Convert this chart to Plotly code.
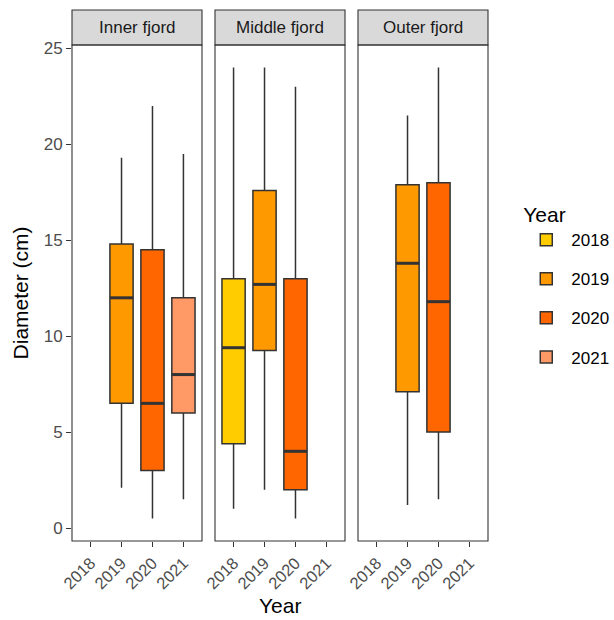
import plotly.graph_objects as go

years = ["2018", "2019", "2020", "2021"]
colors = {"2018": "#FFCC00", "2019": "#FF9900", "2020": "#FF6600", "2021": "#FF9966"}
regions = ["Inner fjord", "Middle fjord", "Outer fjord"]

# Box statistics per region
inner_years = ["2019", "2020", "2021"]
inner_lower = [2.1, 0.5, 1.5]
inner_q1 = [6.5, 3.0, 6.0]
inner_med = [12.0, 6.5, 8.0]
inner_q3 = [14.8, 14.5, 12.0]
inner_upper = [19.3, 22.0, 19.5]

middle_years = ["2018", "2019", "2020"]
middle_lower = [1.0, 2.0, 0.5]
middle_q1 = [4.4, 9.25, 2.0]
middle_med = [9.4, 12.7, 4.0]
middle_q3 = [13.0, 17.6, 13.0]
middle_upper = [24.0, 24.0, 23.0]

outer_years = ["2019", "2020"]
outer_lower = [1.2, 1.5]
outer_q1 = [7.1, 5.0]
outer_med = [13.8, 11.8]
outer_q3 = [17.9, 18.0]
outer_upper = [21.5, 24.0]

y_ticks = [0, 5, 10, 15, 20, 25]

data = {
    "Inner fjord": (inner_years, inner_lower, inner_q1, inner_med, inner_q3, inner_upper),
    "Middle fjord": (middle_years, middle_lower, middle_q1, middle_med, middle_q3, middle_upper),
    "Outer fjord": (outer_years, outer_lower, outer_q1, outer_med, outer_q3, outer_upper),
}

FONT = "Liberation Sans, Arial, Helvetica, sans-serif"
DARK = "#333333"
BOXW = 0.75

fig = go.Figure()
shown = set()
domains = [[0.0, 0.3125], [0.34375, 0.65625], [0.6875, 1.0]]

for yr in years:
    for pi, reg in enumerate(regions):
        yl, lo, q1, md, q3, up = data[reg]
        if yr not in yl:
            continue
        k = yl.index(yr)
        xi = years.index(yr)
        xa = "x" if pi == 0 else f"x{pi+1}"
        ya = "y" if pi == 0 else f"y{pi+1}"
        fig.add_trace(go.Box(
            x=[xi], q1=[q1[k]], median=[md[k]], q3=[q3[k]],
            lowerfence=[lo[k]], upperfence=[up[k]],
            width=BOXW, whiskerwidth=0, boxpoints=False,
            fillcolor=colors[yr], line=dict(color=DARK, width=1.5),
            name=yr, legendgroup=yr, showlegend=(yr not in shown),
            xaxis=xa, yaxis=ya,
        ))
        shown.add(yr)
        # thicker median line
        fig.add_trace(go.Scatter(
            x=[xi - BOXW / 2, xi + BOXW / 2], y=[md[k], md[k]],
            mode="lines", line=dict(color=DARK, width=3),
            showlegend=False, legendgroup=yr, hoverinfo="skip",
            xaxis=xa, yaxis=ya,
        ))

ydom = [0.0, 0.934]
yrange = [-0.675, 25.175]
layout = dict(
    width=614, height=620,
    margin=dict(l=72, r=126, t=10, b=79, autoexpand=False),
    paper_bgcolor="white", plot_bgcolor="white",
    font=dict(family=FONT, color="black"),
    boxmode="overlay",
    showlegend=True,
    legend=dict(
        title=dict(text="Year", font=dict(size=21, color="black")),
        font=dict(size=17, color="black"),
        x=1.08, xanchor="left", y=0.652, yanchor="top",
        traceorder="grouped", tracegroupgap=14,
        itemwidth=40,
        bgcolor="rgba(0,0,0,0)",
    ),
)

for pi in range(3):
    key = "xaxis" if pi == 0 else f"xaxis{pi+1}"
    layout[key] = dict(
        domain=domains[pi], range=[-0.6, 3.6],
        tickmode="array", tickvals=list(range(len(years))), ticktext=years,
        tickangle=-45, ticks="outside", ticklen=5, tickwidth=1.3, tickcolor=DARK,
        tickfont=dict(size=16.5, color="#4D4D4D"),
        showline=False, showgrid=False, zeroline=False,
        anchor="y" if pi == 0 else f"y{pi+1}",
        automargin=False, fixedrange=True,
    )
    ykey = "yaxis" if pi == 0 else f"yaxis{pi+1}"
    layout[ykey] = dict(
        domain=ydom, range=yrange,
        tickmode="array", tickvals=y_ticks, ticktext=[str(v) for v in y_ticks],
        ticks="outside" if pi == 0 else "", ticklen=5, tickwidth=1.3, tickcolor=DARK,
        showticklabels=(pi == 0),
        tickfont=dict(size=17, color="#4D4D4D"),
        showline=False, showgrid=False, zeroline=False,
        anchor="x" if pi == 0 else f"x{pi+1}", automargin=False, fixedrange=True,
    )

fig.update_layout(**layout)

shapes = []
annotations = []
for pi, reg in enumerate(regions):
    d = domains[pi]
    xs = "x" if pi == 0 else f"x{pi+1}"
    ys = "y" if pi == 0 else f"y{pi+1}"
    # panel border
    shapes.append(dict(type="rect", xref=f"{xs} domain", yref=f"{ys} domain",
                       x0=0, x1=1, y0=0, y1=1,
                       line=dict(color=DARK, width=1.1), fillcolor="rgba(0,0,0,0)", layer="above"))
    # strip
    shapes.append(dict(type="rect", xref="paper", yref="paper",
                       x0=d[0], x1=d[1], y0=ydom[1], y1=1.0,
                       fillcolor="#D9D9D9", line=dict(color=DARK, width=1.1), layer="below"))
    annotations.append(dict(text=reg, xref="paper", yref="paper",
                            x=(d[0] + d[1]) / 2, y=(ydom[1] + 1.0) / 2,
                            showarrow=False, font=dict(size=17, color="#1A1A1A"),
                            xanchor="center", yanchor="middle"))

annotations.append(dict(text="Year", xref="paper", yref="paper", x=0.5, y=-0.122,
                        showarrow=False, font=dict(size=21, color="black"),
                        xanchor="center", yanchor="middle"))
annotations.append(dict(text="Diameter (cm)", xref="paper", yref="paper", x=-0.124, y=0.467,
                        showarrow=False, textangle=-90, font=dict(size=21, color="black"),
                        xanchor="center", yanchor="middle"))

fig.update_layout(shapes=shapes, annotations=annotations)
fig.write_html("out.html",
               config={"displayModeBar": False},
               post_script="document.body.style.margin='0';document.body.style.overflow='hidden';")
